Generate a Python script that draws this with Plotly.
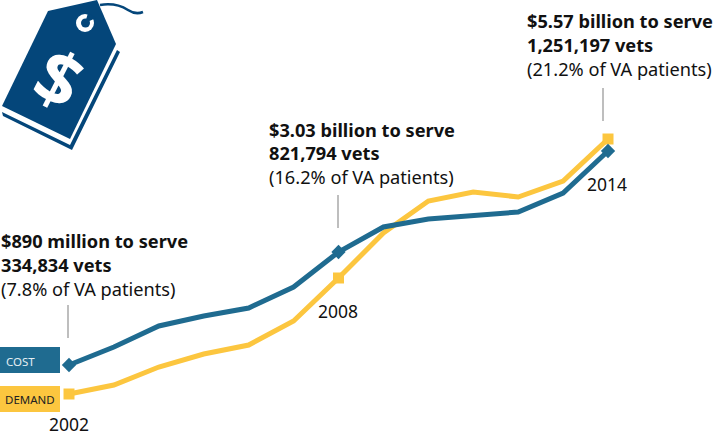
import plotly.graph_objects as go

years = list(range(2002, 2015))
# Relative height of each line on the chart (no numeric axis in the original)
cost_index = [72, 90, 111, 121, 129, 150, 185, 210, 218, 222, 225, 244, 286]
demand_index = [43, 52, 70, 83, 92, 116, 159, 204, 236, 245, 240, 256, 298]
key_years = [2002, 2008, 2014]
callouts = [
    ("<b>$890 million to serve</b>", "<b>334,834 vets</b>", "(7.8% of VA patients)"),
    ("<b>$3.03 billion to serve</b>", "<b>821,794 vets</b>", "(16.2% of VA patients)"),
    ("<b>$5.57 billion to serve</b>", "<b>1,251,197 vets</b>", "(21.2% of VA patients)"),
]

BLUE = "#1f6b90"
YELLOW = "#fcc63f"
NAVY = "#04467a"
FONT = "Noto Sans"
W, H = 721, 437
px_per_year = 44.92

fig = go.Figure()
for vals, col, sym, sz, name in [
    (demand_index, YELLOW, "square", 11, "Demand"),
    (cost_index, BLUE, "diamond", 11, "Cost"),
]:
    fig.add_trace(go.Scatter(x=years, y=vals, mode="lines", name=name,
                             line=dict(color=col, width=5), showlegend=False))
    fig.add_trace(go.Scatter(x=key_years, y=[vals[years.index(k)] for k in key_years],
                             mode="markers", name=name, showlegend=False,
                             marker=dict(color=col, symbol=sym, size=sz)))

fig.update_layout(
    width=W, height=H, margin=dict(l=0, r=0, t=0, b=0), autosize=False,
    paper_bgcolor="white", plot_bgcolor="white",
    font=dict(family=FONT, color="#111111"),
    xaxis=dict(range=[2002 - 69 / px_per_year, 2014 + (W - 608) / px_per_year], visible=False),
    yaxis=dict(range=[0, H], visible=False),
    xaxis2=dict(range=[0, W], visible=False, overlaying="x", anchor="y2"),
    yaxis2=dict(range=[H, 0], visible=False, overlaying="y", anchor="x2"),
)
# an empty trace activates the overlay axes
fig.add_trace(go.Scatter(x=[None], y=[None], xaxis="x2", yaxis="y2", showlegend=False))


def shape(**k):
    fig.add_shape(xref="x2", yref="y2", **k)


def text(x, y, s, size=18, color="#111111", anchor="left", **k):
    fig.add_annotation(xref="x2", yref="y2", x=x, y=y, text=s, showarrow=False,
                       xanchor=anchor, yanchor="middle",
                       font=dict(family=FONT, size=size, color=color), **k)


# Legend chips
shape(type="rect", x0=0, x1=60, y0=347, y1=373, fillcolor=BLUE, line_width=0, layer="below")
shape(type="rect", x0=0, x1=60, y0=386, y1=412, fillcolor=YELLOW, line_width=0, layer="below")
text(4, 361, "COST", size=11.5, color="#e6eef3")
text(3, 399.5, "DEMAND", size=11.5, color="#222222")

# Leader lines
for x, y0, y1 in [(68, 305, 338), (338, 195, 228), (603, 88, 121)]:
    shape(type="line", x0=x, x1=x, y0=y0, y1=y1, line=dict(color="#a9a9a9", width=1.5))

# Callouts
for (x, ys), lines in zip([(1, (241, 265, 289)), (267, (130, 153, 177)), (525, (21, 45, 69))], callouts):
    for y, s in zip(ys, lines):
        text(x, y, s, size=18.2, xshift=-2 if x == 1 else 0)

# Year labels
for (x, y), yr in zip([(69, 424), (338, 311), (607, 184)], key_years):
    text(x, y, str(yr), size=17.5, anchor="center")

# Price tag
shape(type="path", path="M48,11 L97,0 L116,44 L70,139 L2,106 Z", fillcolor=NAVY, line_width=0)
shape(type="path", path="M2,112 L3,116 L72,150 L120,52 L117,50 L70,145 Z", fillcolor=NAVY, line_width=0)
shape(type="path", path="M100,5 C112,3 120,5 128,10 C134,14 138,14 143,12",
      line=dict(color=NAVY, width=2.5))
shape(type="circle", x0=76, x1=94, y0=14, y1=32, fillcolor="white", line_width=0)
shape(type="circle", x0=81, x1=90, y0=18.5, y1=27.5, fillcolor=NAVY, line_width=0)
shape(type="path", path="M85,23 L88,13 L96,18 Z", fillcolor=NAVY, line_width=0)
text(60, 77, "<b>$</b>", size=74, color="white", anchor="center", textangle=27)

fig.write_html("out.html", post_script="document.body.style.margin='0';",
               config=dict(displayModeBar=False))
